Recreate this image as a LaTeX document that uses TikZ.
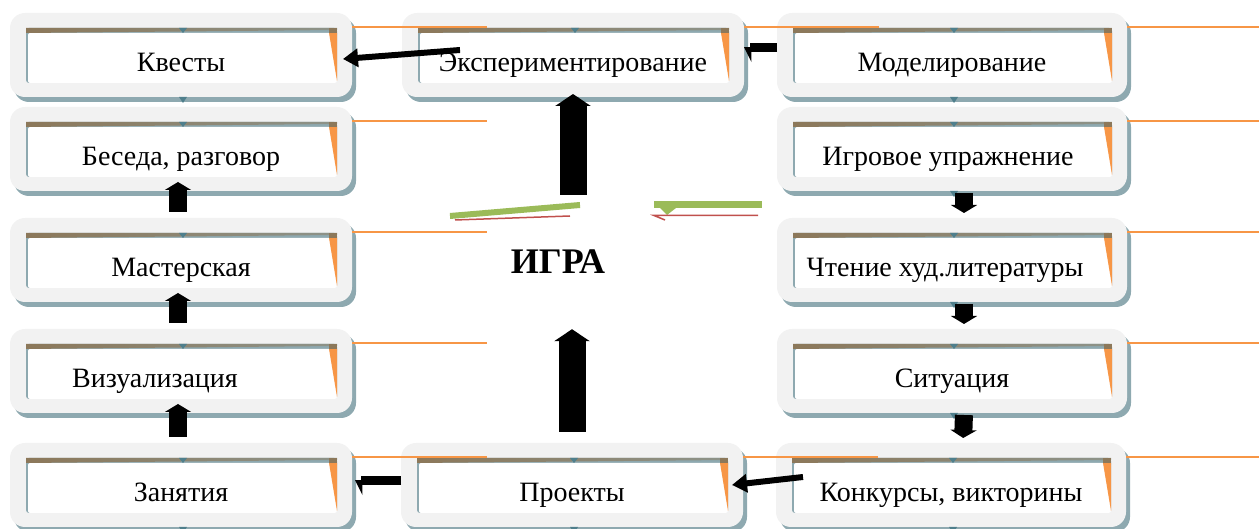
\documentclass[tikz,border=0pt]{standalone}
\usepackage{fontspec}
\setmainfont{Liberation Serif}
\usetikzlibrary{positioning,shadows,arrows.meta}

\definecolor{framegray}{HTML}{F2F2F2}
\definecolor{shadowblue}{HTML}{8EA9B0}
\definecolor{rimbrown}{HTML}{8C785A}
\definecolor{tabteal}{HTML}{4F7F8C}
\definecolor{offorange}{HTML}{F79646}
\definecolor{offgreen}{HTML}{9BBB59}
\definecolor{offred}{HTML}{C0504D}

\tikzset{
  card/.style={rectangle, rounded corners=15pt, fill=framegray,
    minimum width=342pt, minimum height=84pt, inner sep=0pt, outer sep=0pt,
    drop shadow={shadow xshift=4pt, shadow yshift=-5pt, fill=shadowblue, opacity=1},
    font=\fontsize{28}{32}\selectfont, text height=40pt, text depth=6pt,
    path picture={
      \coordinate (in-nw) at ([shift={(16pt,-15pt)}]path picture bounding box.north west);
      \coordinate (in-se) at ([shift={(-15pt,14pt)}]path picture bounding box.south east);
      \coordinate (in-ne) at (in-nw -| in-se);
      \coordinate (in-top) at (in-nw -| path picture bounding box.center);
      \fill[shadowblue, rounded corners=3pt] (in-nw) rectangle (in-se);
      \fill[white, rounded corners=2pt] ([shift={(2pt,-5pt)}]in-nw) rectangle (in-se);
      \shade[sharp corners, left color=rimbrown, right color=rimbrown!45!shadowblue]
        (in-nw) -- (in-ne) -- ([yshift=-2pt]in-ne) -- ([yshift=-5pt]in-nw) -- cycle;
      \fill[sharp corners, offorange] ([shift={(-8pt,-5pt)}]in-ne) -- ([yshift=-5pt]in-ne) -- ([yshift=2pt]in-se) -- cycle;
      \fill[sharp corners, rimbrown] ([xshift=-8pt]in-ne) rectangle ([yshift=-5pt]in-ne);
      \fill[sharp corners, tabteal] ([xshift=-2pt]in-top) -- ++(8pt,0pt) -- ++(-4pt,-5pt) -- cycle;
    }},
  widecard/.style={card, minimum width=350pt},
  thinarrow/.style={line width=6pt, -{Triangle[length=15pt,width=18pt]}},
  stubarrow/.style={line width=9pt, -{Triangle[length=7pt,width=28pt,left]}},
  fatarrow/.style={line width=18pt, -{Triangle[length=8pt,width=26pt]}},
  bigarrow/.style={line width=27pt, -{Triangle[length=12pt,width=35pt]}},
  orangeline/.style={offorange, line width=1.5pt}
}

\begin{document}
\begin{tikzpicture}[x=1pt,y=1pt]
    \useasboundingbox (0,0) rectangle (1259,529);

    % left column
    \node[card] (kvest) at (181,474) {Квесты};
    \node[card,below=10pt of kvest] (beseda) {Беседа, разговор};
    \node[card,below=27pt of beseda] (mast) {Мастерская};
    \node[card,below=27pt of mast] (vizual) {Визуализация\hspace*{52pt}};
    \node[card,below=30pt of vizual] (zanyat) {Занятия};

    % middle
    \node[card,right=50pt of kvest] (expe) {Экспериментирование};
    \node[card,right=49pt of zanyat] (proekt) {Проекты};
    \node[font=\fontsize{36}{40}\selectfont\bfseries,minimum height=134pt] (igra) at (558,267) {ИГРА};

    % right column
    \node[widecard,right=33pt of expe] (model) {Моделирование};
    \node[widecard,below=10pt of model] (igrov) {Игровое упражнение\hspace*{8pt}};
    \node[widecard,below=27pt of igrov] (chten) {Чтение худ.литературы\hspace*{14pt}};
    \node[widecard,below=27pt of chten] (situac) {Ситуация};
    \node[widecard,right=33pt of proekt] (konkurs) {Конкурсы, викторины};

    % orange lines and tabs
    \foreach \n in {kvest,beseda,mast,vizual,zanyat,expe,proekt,model,igrov,chten,situac,konkurs} {
      \draw[orangeline] ([yshift=-14pt]\n.north east) -- ++(135,0);
      \fill[tabteal] ([xshift=-2pt]\n.south) -- ++(8,0) -- ++(-4,-6) -- cycle;
    }

    % green and red strokes
    \draw[offgreen,line width=6pt] (450,313) -- (580,324);
    \draw[offred,line width=1.5pt] (455,309) -- (570,313);
    \draw[offgreen,line width=7pt] (654,324) -- (762,324);
    \fill[offgreen] (660,321) -- (676,321) -- (667,314) -- cycle;
    \draw[offred,line width=1.5pt] (665,309) -- (654,313.5) -- (758,313.5);

    % arrows
    \draw[thinarrow] ([shift={(58pt,5pt)}]expe.west) -- ([shift={(-9pt,-4pt)}]kvest.east);
    \draw[stubarrow] ([yshift=7pt]model.west) -- ([yshift=7pt]expe.east);
    \draw[bigarrow,shorten >=-3pt] (expe.south |- igra.north) -- (expe.south);
    \draw[bigarrow,shorten <=11pt] (proekt.north) -- (proekt.north |- igra.south);
    \foreach \a/\b in {zanyat/vizual,vizual/mast,mast/beseda}
      \draw[fatarrow,shorten <=6pt,shorten >=-9pt] ([xshift=-3pt]\a.north) -- ([xshift=-3pt]\b.south);
    \foreach \a/\b in {igrov/chten,chten/situac,situac/konkurs}
      \draw[fatarrow,shorten <=2pt,shorten >=5pt] ([xshift=12pt]\a.south) -- ([xshift=12pt]\b.north);
    \draw[stubarrow] ([yshift=4pt]proekt.west) -- ([shift={(3pt,4pt)}]zanyat.east);
    \draw[thinarrow] ([shift={(27pt,8pt)}]konkurs.west) -- ([xshift=-11pt]proekt.east);

\end{tikzpicture}
\end{document}
